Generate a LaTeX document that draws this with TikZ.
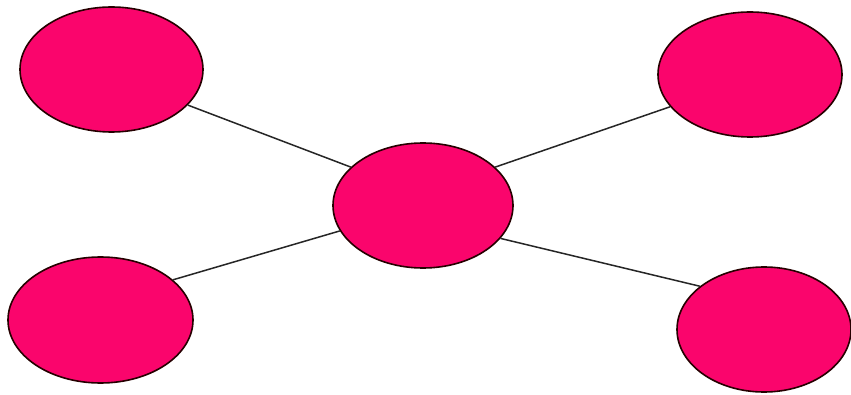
\documentclass[tikz,border=0pt]{standalone}
\usetikzlibrary{shapes.geometric}
\definecolor{blobpink}{RGB}{250,5,108}
\begin{document}
\begin{tikzpicture}[x=1pt,y=-1pt,
  blob/.style={ellipse, draw=black!85!red, line width=1.6pt, fill=blobpink, inner sep=0pt},
  link/.style={draw=black!85, line width=1.5pt}]
\useasboundingbox (0,0) rectangle (851,395);
\fill[white] (0,0) rectangle (851,395);
\node[blob, minimum width=183pt, minimum height=125pt] (tl) at (111.5,69.5) {};
\node[blob, minimum width=184pt, minimum height=125pt] (tr) at (750,74.5) {};
\node[blob, minimum width=180pt, minimum height=125pt] (c) at (423,205.5) {};
\node[blob, minimum width=185pt, minimum height=126pt] (bl) at (100.5,320) {};
\node[blob, minimum width=174pt, minimum height=125pt] (br) at (764,329.5) {};
\draw[link] (tl.-25) -- (c.152);
\draw[link] (tr.-158) -- (c.28);
\draw[link] (bl.29) -- (c.197);
\draw[link] (br.146) -- (c.-23);
\end{tikzpicture}
\end{document}
